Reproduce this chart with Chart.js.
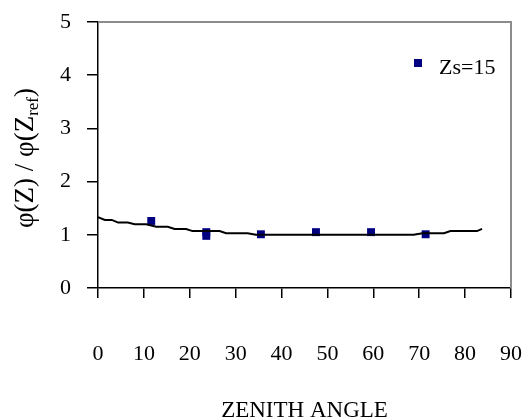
<!DOCTYPE html>
<html>
<head>
<meta charset="utf-8">
<script src="https://cdn.jsdelivr.net/npm/chart.js@4"></script>
<style>
  html, body { margin: 0; padding: 0; background: #fff; }
  #wrap { width: 523px; height: 418px; }
</style>
</head>
<body>
<div id="wrap"><canvas id="chart"></canvas></div>
<script>
// fitted curve (zenith angle vs ratio)
const curveAngles = [0, 1.5, 3, 4.4, 6.5, 8, 10.5, 12.7, 15.2, 16.7, 19.2, 20.6, 26.5, 27.9, 32.6, 34.4, 68.8, 70.7, 75.4, 76.8, 82.6, 83.7];
const curveRatios = [1.33, 1.28, 1.28, 1.23, 1.23, 1.2, 1.2, 1.15, 1.15, 1.11, 1.11, 1.07, 1.07, 1.03, 1.03, 1.0, 1.0, 1.03, 1.03, 1.07, 1.07, 1.11];

// measured points, Zs=15
const pointAngles = [11.6, 23.6, 23.6, 35.5, 47.5, 59.5, 71.4];
const pointRatios = [1.26, 1.05, 0.98, 1.01, 1.05, 1.05, 1.01];

const xTicks = [0, 10, 20, 30, 40, 50, 60, 70, 80, 90];
const yTicks = [0, 1, 2, 3, 4, 5];

const serif = '"Liberation Serif", "Times New Roman", serif';

const decor = {
    id: 'decor',
    beforeDatasetsDraw(chart) {
        const { ctx, chartArea: a } = chart;
        ctx.save();
        ctx.strokeStyle = '#8c8c8c';
        ctx.lineWidth = 2;
        ctx.beginPath();
        ctx.moveTo(a.left, a.top);
        ctx.lineTo(a.right, a.top);
        ctx.lineTo(a.right, a.bottom);
        ctx.stroke();
        ctx.restore();
    },
    afterDraw(chart) {
        const { ctx, chartArea: a } = chart;
        ctx.save();
        ctx.fillStyle = '#000';

        // y title with subscript
        const main = 'φ(Z) / φ(Z', sub = 'ref', close = ')';
        const big = '27px ' + serif, small = '17px ' + serif;
        ctx.font = big;
        const w1 = ctx.measureText(main).width, w3 = ctx.measureText(close).width;
        ctx.font = small;
        const w2 = ctx.measureText(sub).width;
        const total = w1 + w2 + w3;
        ctx.translate(25, 158);
        ctx.rotate(-Math.PI / 2);
        ctx.textBaseline = 'alphabetic';
        ctx.textAlign = 'left';
        let x = -total / 2;
        ctx.font = big;
        ctx.fillText(main, x, 8);
        x += w1;
        ctx.font = small;
        ctx.fillText(sub, x, 13);
        x += w2;
        ctx.font = big;
        ctx.fillText(close, x, 8);
        ctx.setTransform(1, 0, 0, 1, 0, 0);

        // x title
        ctx.font = '23px ' + serif;
        ctx.textAlign = 'center';
        ctx.textBaseline = 'alphabetic';
        ctx.fillText('ZENITH ANGLE', (a.left + a.right) / 2, 417);

        // legend inside plot
        const ds = chart.data.datasets[1];
        ctx.fillStyle = ds.backgroundColor;
        ctx.fillRect(414, 59, 8, 8);
        ctx.fillStyle = '#000';
        ctx.textAlign = 'left';
        ctx.textBaseline = 'middle';
        ctx.font = '22px ' + serif;
        ctx.fillText(ds.label, 439, 68);
        ctx.restore();
    }
};

new Chart(document.getElementById('chart'), {
    type: 'scatter',
    data: {
        datasets: [{
            label: 'fit',
            data: curveAngles.map(function (a, i) { return { x: a, y: curveRatios[i] }; }),
            showLine: true,
            borderColor: '#000',
            borderWidth: 2,
            pointRadius: 0,
            tension: 0,
        }, {
            label: 'Zs=15',
            data: pointAngles.map(function (a, i) { return { x: a, y: pointRatios[i] }; }),
            pointStyle: 'rect',
            pointRadius: 5.6,
            backgroundColor: '#000080',
            borderColor: '#000080',
            borderWidth: 0,
        }],
    },
    options: {
        responsive: true,
        maintainAspectRatio: false,
        animation: false,
        layout: { padding: { left: 0, top: 22, right: 12, bottom: 0 } },
        plugins: {
            legend: { display: false },
            tooltip: { enabled: false },
        },
        scales: {
            x: {
                type: 'linear',
                min: 0,
                max: 90,
                afterFit: function (s) { s.height = 130; s.paddingLeft = 0; s.paddingRight = 0; },
                afterBuildTicks: function (s) { s.ticks = xTicks.map(function (v) { return { value: v }; }); },
                border: { display: true, color: '#000', width: 1.5 },
                grid: { drawOnChartArea: false, drawTicks: true, tickLength: 10, color: '#000', lineWidth: 1.5 },
                ticks: { color: '#000', font: { family: serif, size: 22 }, padding: 43, maxRotation: 0 },
            },
            y: {
                min: 0,
                max: 5,
                afterFit: function (s) { s.width = 98; s.paddingTop = 0; s.paddingBottom = 0; },
                afterBuildTicks: function (s) { s.ticks = yTicks.map(function (v) { return { value: v }; }); },
                border: { display: true, color: '#000', width: 1.5 },
                grid: { drawOnChartArea: false, drawTicks: true, tickLength: 11, color: '#000', lineWidth: 1.5 },
                ticks: { color: '#000', font: { family: serif, size: 22 }, padding: 16 },
            },
        },
    },
    plugins: [decor],
});
</script>
</body>
</html>
